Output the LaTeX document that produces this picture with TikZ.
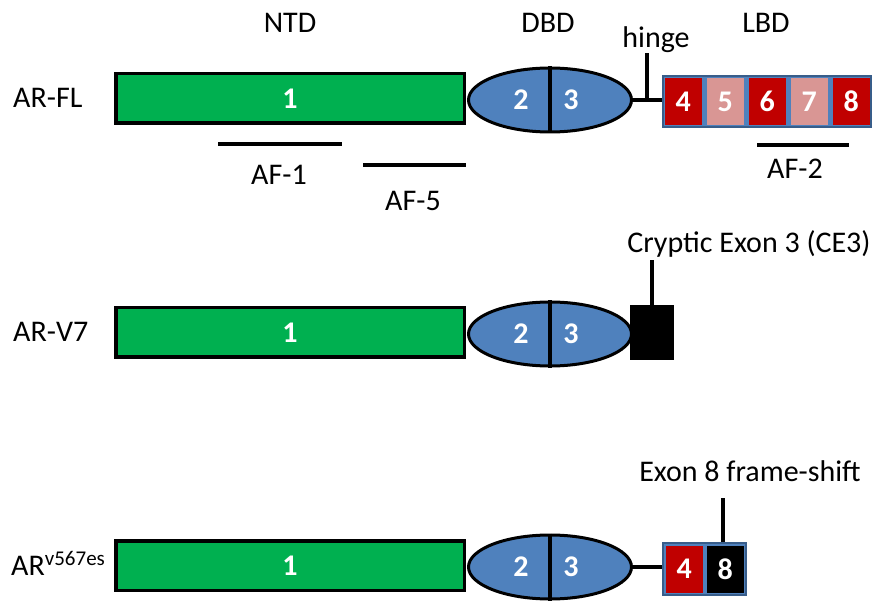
\documentclass[tikz,border=0pt]{standalone}
\usepackage{fontspec}
\setmainfont{Carlito}
\usepackage{xcolor}
\usepackage{tikz}
\usetikzlibrary{positioning,shapes.geometric}

\definecolor{exgreen}{HTML}{00B050}
\definecolor{exblue}{HTML}{4F81BD}
\definecolor{exblueline}{HTML}{385D8A}
\definecolor{exred}{HTML}{C00000}
\definecolor{expink}{HTML}{D99694}
\newcommand{\lblfont}{\fontsize{30}{35}\selectfont}

\begin{document}
\begin{tikzpicture}[
  x=1pt, y=-1pt,
  node distance=6pt and 6pt,
  ntd/.style={rectangle, draw, line width=3.5pt, fill=exgreen, minimum width=348.5pt,
              minimum height=49.5pt, inner sep=0pt, text=white, font=\lblfont\bfseries},
  dbd/.style={ellipse, draw, line width=3pt, fill=exblue, minimum width=163pt,
              minimum height=64pt, inner sep=0pt},
  lbd/.style={rectangle, draw=exblueline, line width=2pt, fill=exblue,
              minimum height=51pt, inner sep=0pt},
  exsq/.style={rectangle, minimum width=37.5pt, minimum height=47pt, inner sep=0pt,
               text=white, font=\lblfont\bfseries},
  num/.style={inner sep=0pt, text=white, font=\lblfont\bfseries},
  lbl/.style={inner sep=0pt, font=\lblfont},
  link/.style={line width=3.2pt},
  bar/.style={line width=3.8pt},
]
  \useasboundingbox (0,0) rectangle (879,604);

  % Domain headers
  \node[lbl] (hntd) at (290,23) {NTD};
  \node[lbl] (hdbd) at (548,23) {DBD};
  \node[lbl] (hlbd) at (766,23) {LBD};

  % AR-FL
  \node[lbl, anchor=west] (nfl) at (13,98) {AR-FL};
  \node[ntd] (ntdfl) at (290,98.5) {1};
  \node[dbd] (dbdfl) at (550,100) {};
  \draw[link] (dbdfl.north) -- (dbdfl.south);
  \node[num] at ([xshift=-29pt]dbdfl.center) {2};
  \node[num] at ([xshift=21pt]dbdfl.center) {3};
  \node[lbd, minimum width=208pt] (lbdfl) at (767,101.5) {};
  \foreach \n/\x/\c in {4/683.25/exred, 5/725.25/expink, 6/767.25/exred,
                        7/809.25/expink, 8/851.25/exred}
    \node[exsq, fill=\c] (e\n) at (\x,101.5) {\n};
  \draw[link] (dbdfl.east) -- (dbdfl.east -| lbdfl.west);
  \coordinate (hingebase) at (647,100);
  \coordinate (hingetop) at (647,53);
  \draw[link] (hingebase) -- (hingetop);
  \node[lbl] (hhinge) at (656,40) {hinge};

  % Activation functions
  \coordinate (af1a) at (218,144);
  \coordinate (af1b) at (342,144);
  \draw[bar] (af1a) -- (af1b);
  \node[lbl] (af1) at (279,175) {AF-1};
  \coordinate (af5a) at (363,165);
  \coordinate (af5b) at (466,165);
  \draw[bar] (af5a) -- (af5b);
  \node[lbl] (af5) at (413,201) {AF-5};
  \coordinate (af2a) at (757,145);
  \coordinate (af2b) at (849,145);
  \draw[bar] (af2a) -- (af2b);
  \node[lbl] (af2) at (795,169) {AF-2};

  % AR-V7
  \node[lbl, anchor=west] (nv7) at (13,332) {AR-V7};
  \node[ntd] (ntdv7) at (290,332.5) {1};
  \node[dbd] (dbdv7) at (550,334) {};
  \draw[link] (dbdv7.north) -- (dbdv7.south);
  \node[num] at ([xshift=-29pt]dbdv7.center) {2};
  \node[num] at ([xshift=21pt]dbdv7.center) {3};
  \node[rectangle, fill=black, minimum width=44pt, minimum height=55pt,
        inner sep=0pt] (ce3) at (652,332.5) {};
  \coordinate (ce3top) at (652,260);
  \draw[link] (ce3.north) -- (ce3top);
  \node[lbl] (hce3) at (749,244) {Cryptic Exon 3 (CE3)};

  % AR-v567es
  \node[lbl, anchor=base west] (nv567) at (11,575) {AR\textsuperscript{v567es}};
  \node[ntd] (ntdv) at (290,565.5) {1};
  \node[dbd] (dbdv) at (550,567) {};
  \draw[link] (dbdv.north) -- (dbdv.south);
  \node[num] at ([xshift=-29pt]dbdv.center) {2};
  \node[num] at ([xshift=21pt]dbdv.center) {3};
  \node[lbd, minimum width=83pt, minimum height=52pt] (lbdv) at (704.5,569) {};
  \node[exsq, fill=exred] (e4v) at (684.25,569) {4};
  \node[exsq, fill=black] (e8v) at (725.25,569) {8};
  \draw[link] (dbdv.east) -- (dbdv.east -| lbdv.west);
  \coordinate (fstop) at (723,498);
  \draw[link] (fstop) -- (fstop |- lbdv.north);
  \node[lbl] (hfs) at (750,471) {Exon 8 frame-shift};

\end{tikzpicture}
\end{document}
